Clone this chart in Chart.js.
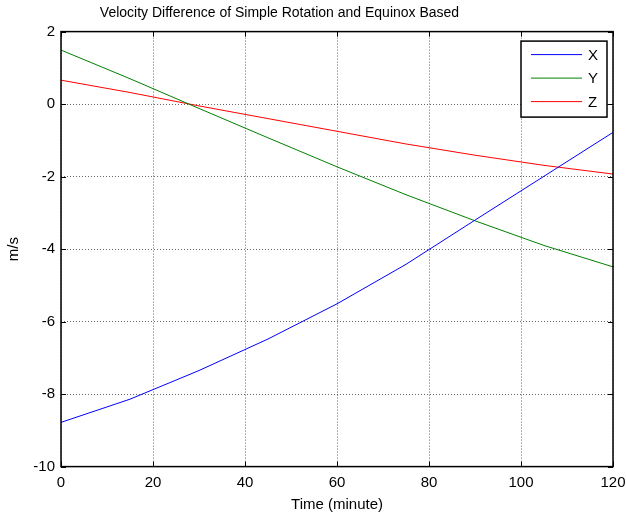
<!DOCTYPE html>
<html>
<head>
<meta charset="utf-8">
<script src="https://cdn.jsdelivr.net/npm/chart.js@4.4.1/dist/chart.umd.min.js"></script>
<style>
    html, body { margin: 0; padding: 0; background: #fff; }
    #wrap { width: 626px; height: 516px; }
</style>
</head>
<body>
<div id="wrap"><canvas id="velocity_chart" width="626" height="516"></canvas></div>
<script>
    "use strict";

    var chart_title = "Velocity Difference of Simple Rotation and Equinox Based";
    var times = [0, 15, 30, 45, 60, 75, 90, 105, 120];
    var vel_x = [-8.78, -8.14, -7.35, -6.48, -5.51, -4.42, -3.2, -1.99, -0.78];
    var vel_y = [1.49, 0.7, -0.12, -0.93, -1.73, -2.5, -3.22, -3.9, -4.49];
    var vel_z = [0.66, 0.32, -0.05, -0.4, -0.75, -1.1, -1.41, -1.69, -1.93];
    var series_labels = ["X", "Y", "Z"];
    var series_colors = ["#0000ff", "#008000", "#ff0000"];
    var x_ticks = [0, 20, 40, 60, 80, 100, 120];
    var y_ticks = [-10, -8, -6, -4, -2, 0, 2];

    var FONT = "Arial, 'Liberation Sans', sans-serif";

    function points(values) {
        return times.map(function (t, i) {
            return {x: t, y: values[i]};
        });
    }

    // title sits left of the axes centre, like in the original figure
    var titlePlugin = {
        id: "plainTitle",
        afterDraw: function (chart) {
            var ctx = chart.ctx;
            ctx.save();
            ctx.font = "14px " + FONT;
            ctx.fillStyle = "#000";
            ctx.textAlign = "center";
            ctx.textBaseline = "middle";
            ctx.fillText(chart_title, 279.5, 13);
            ctx.restore();
        },
    };

    // matlab style frame with inward tick marks
    var framePlugin = {
        id: "frame",
        afterDatasetsDraw: function (chart) {
            var ctx = chart.ctx;
            var area = chart.chartArea;
            var xs = chart.scales.x;
            var ys = chart.scales.y;
            var len = 5;
            ctx.save();
            ctx.strokeStyle = "#000";
            ctx.lineWidth = 1;
            ctx.beginPath();
            x_ticks.forEach(function (v) {
                var px = Math.round(xs.getPixelForValue(v)) + 0.5;
                ctx.moveTo(px, area.bottom);
                ctx.lineTo(px, area.bottom - len);
                ctx.moveTo(px, area.top);
                ctx.lineTo(px, area.top + len);
            });
            y_ticks.forEach(function (v) {
                var py = Math.round(ys.getPixelForValue(v)) + 0.5;
                ctx.moveTo(area.left, py);
                ctx.lineTo(area.left + len, py);
                ctx.moveTo(area.right, py);
                ctx.lineTo(area.right - len, py);
            });
            ctx.stroke();
            ctx.lineWidth = 1.5;
            ctx.strokeRect(area.left, area.top, area.right - area.left, area.bottom - area.top);
            ctx.restore();
        },
    };

    // legend box in the upper right corner of the axes
    var legendBoxPlugin = {
        id: "legendBox",
        afterDraw: function (chart) {
            var ctx = chart.ctx;
            var area = chart.chartArea;
            var right = area.right - 6;
            var left = right - 86;
            var top = area.top + 9.5;
            var rowH = 23.5;
            var height = 76;
            ctx.save();
            ctx.fillStyle = "#fff";
            ctx.fillRect(left, top, right - left, height);
            ctx.strokeStyle = "#000";
            ctx.lineWidth = 1.5;
            ctx.strokeRect(left, top, right - left, height);
            ctx.font = "15px " + FONT;
            ctx.textBaseline = "middle";
            ctx.textAlign = "left";
            chart.data.datasets.forEach(function (ds, i) {
                var y = top + 13.5 + i * rowH;
                ctx.strokeStyle = ds.borderColor;
                ctx.lineWidth = 1;
                ctx.beginPath();
                ctx.moveTo(left + 10, y);
                ctx.lineTo(left + 61, y);
                ctx.stroke();
                ctx.fillStyle = "#000";
                ctx.fillText(ds.label, left + 67, y + 1);
            });
            ctx.restore();
        },
    };

    var gridStyle = {
        color: "rgba(0, 0, 0, 0.6)",
        lineWidth: 1,
        drawTicks: false,
    };

    new Chart(document.getElementById("velocity_chart"), {
        type: "line",
        data: {
            datasets: [vel_x, vel_y, vel_z].map(function (values, i) {
                return {
                    label: series_labels[i],
                    data: points(values),
                    borderColor: series_colors[i],
                    backgroundColor: series_colors[i],
                    borderWidth: 1,
                    pointRadius: 0,
                    tension: 0,
                    fill: false,
                };
            }),
        },
        options: {
            responsive: false,
            animation: false,
            devicePixelRatio: 1,
            layout: {
                padding: {top: 31.6, right: 13, bottom: 0, left: 0},
            },
            plugins: {
                legend: {display: false},
                tooltip: {enabled: false},
                title: {display: false},
            },
            scales: {
                x: {
                    type: "linear",
                    min: 0,
                    max: 120,
                    afterFit: function (scale) {
                        scale.height = 49.4;
                        scale.paddingLeft = 0;
                        scale.paddingRight = 0;
                    },
                    afterBuildTicks: function (scale) {
                        scale.ticks = x_ticks.map(function (v) {
                            return {value: v};
                        });
                    },
                    grid: Object.assign({}, gridStyle),
                    border: {display: false, dash: [1, 2]},
                    ticks: {
                        color: "#000",
                        padding: 7,
                        maxRotation: 0,
                        font: {family: FONT, size: 15},
                    },
                    title: {
                        display: true,
                        text: "Time (minute)",
                        color: "#000",
                        font: {family: FONT, size: 15},
                        padding: {top: 0, bottom: 2},
                    },
                },
                y: {
                    type: "linear",
                    min: -10,
                    max: 2,
                    afterFit: function (scale) {
                        scale.width = 61;
                        scale.paddingTop = 0;
                        scale.paddingBottom = 0;
                    },
                    afterBuildTicks: function (scale) {
                        scale.ticks = y_ticks.map(function (v) {
                            return {value: v};
                        });
                    },
                    grid: Object.assign({}, gridStyle),
                    border: {display: false, dash: [1, 2]},
                    ticks: {
                        color: "#000",
                        padding: 6,
                        font: {family: FONT, size: 15},
                    },
                    title: {
                        display: true,
                        text: "m/s",
                        color: "#000",
                        font: {family: FONT, size: 15},
                        padding: {top: 5, bottom: 0},
                    },
                },
            },
        },
        plugins: [titlePlugin, framePlugin, legendBoxPlugin],
    });
</script>
</body>
</html>
